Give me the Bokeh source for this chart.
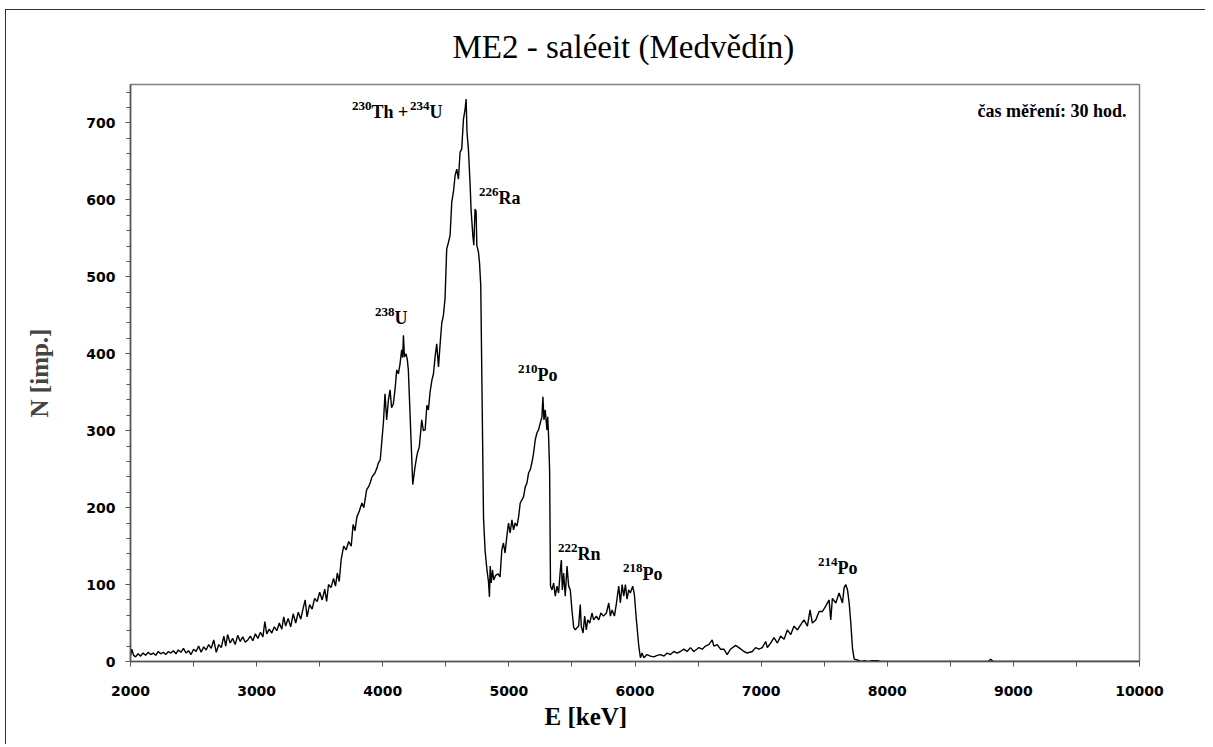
from bokeh.plotting import figure
from bokeh.models import FixedTicker, Range1d, Title, ColumnDataSource
from bokeh.core.properties import value
from bokeh.embed import file_html
from bokeh.resources import INLINE

# ---- data ----
energy_kev = [
    2000, 2010, 2025, 2040, 2060, 2080, 2100, 2120, 2140, 2160, 2180, 2200, 2220, 2240, 2260, 2280,
    2300, 2320, 2340, 2360, 2380, 2400, 2420, 2440, 2460, 2480, 2500, 2520, 2540, 2560, 2580, 2600,
    2620, 2640, 2660, 2680, 2700, 2720, 2740, 2755, 2770, 2790, 2810, 2830, 2850, 2870, 2890, 2910,
    2930, 2950, 2970, 2990, 3010, 3030, 3050, 3065, 3080, 3100, 3120, 3140, 3160, 3180, 3200, 3215,
    3230, 3250, 3270, 3290, 3310, 3330, 3350, 3370, 3385, 3400, 3420, 3440, 3460, 3480, 3500, 3520,
    3540, 3555, 3570, 3590, 3610, 3625, 3640, 3655, 3670, 3690, 3710, 3730, 3750, 3765, 3780, 3795,
    3815, 3835, 3850, 3872, 3890, 3900, 3915, 3938, 3955, 3965, 3980, 3992, 4005, 4018, 4031, 4045,
    4058, 4070, 4084, 4097, 4111, 4124, 4137, 4150, 4158, 4164, 4172, 4185, 4195, 4203, 4238, 4256,
    4268, 4275, 4290, 4309, 4322, 4336, 4350, 4362, 4375, 4389, 4402, 4415, 4428, 4442, 4455, 4468,
    4481, 4494, 4507, 4521, 4534, 4547, 4560, 4574, 4587, 4600, 4613, 4626, 4640, 4653, 4661, 4668,
    4679, 4693, 4700, 4714, 4722, 4732, 4740, 4746, 4759, 4767, 4777, 4799, 4812, 4825, 4838, 4846,
    4852, 4860, 4870, 4880, 4895, 4915, 4930, 4944, 4957, 4970, 4984, 4997, 5010, 5024, 5037, 5050,
    5064, 5077, 5090, 5103, 5116, 5130, 5143, 5156, 5169, 5182, 5196, 5209, 5222, 5235, 5249, 5262,
    5270, 5278, 5288, 5302, 5308, 5315, 5323, 5330, 5342, 5355, 5368, 5381, 5394, 5408, 5416, 5424,
    5434, 5447, 5461, 5474, 5487, 5500, 5514, 5527, 5540, 5553, 5566, 5574, 5588, 5601, 5614, 5625,
    5641, 5659, 5672, 5694, 5712, 5730, 5750, 5773, 5792, 5805, 5818, 5837, 5853, 5871, 5884, 5898,
    5911, 5924, 5937, 5950, 5963, 5982, 5995, 6011, 6030, 6043, 6056, 6070, 6095, 6122, 6150, 6176,
    6202, 6230, 6255, 6281, 6308, 6334, 6360, 6387, 6413, 6440, 6466, 6490, 6506, 6533, 6559, 6585,
    6612, 6625, 6652, 6678, 6705, 6731, 6757, 6797, 6824, 6864, 6890, 6930, 6956, 6983, 7009, 7036,
    7049, 7076, 7102, 7129, 7155, 7182, 7208, 7235, 7261, 7288, 7314, 7340, 7367, 7388, 7406, 7433,
    7460, 7486, 7512, 7539, 7552, 7565, 7592, 7618, 7645, 7658, 7671, 7685, 7698, 7711, 7725, 7738,
    7764, 7790, 7820, 7850, 7880, 7920, 7950, 8000, 8800, 8820, 8840, 10000,
]
counts = [
    7, 16, 8, 6, 10, 7, 11, 8, 12, 9, 11, 8, 13, 10, 12, 9,
    13, 11, 14, 10, 15, 12, 17, 11, 14, 9, 16, 13, 20, 12, 19, 15,
    22, 17, 28, 12, 22, 18, 33, 20, 35, 24, 30, 22, 34, 26, 32, 25,
    28, 33, 27, 36, 30, 38, 32, 52, 36, 42, 37, 45, 40, 50, 42, 58,
    46, 56, 45, 62, 50, 64, 55, 70, 80, 58, 74, 68, 82, 78, 90, 80,
    94, 78, 100, 96, 108, 98, 115, 104, 132, 150, 145, 156, 150, 178, 170, 188,
    196, 206, 200, 223, 228, 232, 240, 245, 252, 258, 262, 285, 310, 348, 314, 340,
    353, 330, 335, 353, 379, 374, 387, 405, 395, 424, 396, 400, 392, 379, 230, 253,
    265, 271, 279, 314, 300, 301, 333, 327, 350, 365, 374, 396, 413, 383, 413, 440,
    450, 472, 536, 545, 554, 597, 610, 632, 640, 627, 662, 666, 705, 718, 731, 688,
    666, 619, 588, 554, 541, 588, 585, 541, 532, 519, 489, 186, 143, 121, 104, 84,
    124, 102, 119, 106, 112, 114, 110, 145, 154, 141, 163, 180, 167, 184, 171, 180,
    176, 188, 206, 210, 214, 227, 232, 245, 249, 258, 271, 288, 297, 301, 310, 318,
    344, 314, 327, 301, 318, 292, 249, 98, 93, 102, 85, 98, 89, 119, 132, 93,
    115, 85, 124, 98, 93, 67, 44, 41, 44, 46, 74, 46, 37, 59, 41, 54,
    50, 63, 54, 59, 54, 63, 59, 63, 76, 59, 67, 59, 76, 98, 76, 100,
    85, 100, 81, 93, 89, 98, 87, 54, 20, 5, 11, 5, 9, 7, 6, 8,
    9, 7, 11, 9, 13, 11, 13, 16, 13, 18, 13, 16, 18, 16, 20, 22,
    28, 20, 22, 16, 16, 9, 16, 21, 18, 13, 11, 13, 18, 16, 18, 26,
    18, 24, 31, 24, 33, 29, 41, 35, 46, 41, 48, 54, 46, 67, 50, 54,
    65, 65, 72, 80, 54, 82, 76, 89, 76, 96, 100, 93, 76, 50, 16, 3,
    2, 0, 1, 0, 1, 1, 0, 0, 0, 3, 0, 0,
]

x_major_ticks = [2000, 3000, 4000, 5000, 6000, 7000, 8000, 9000, 10000]
x_minor_ticks = [2500, 3500, 4500, 5500, 6500, 7500, 8500, 9500]
y_major_ticks = [0, 100, 200, 300, 400, 500, 600, 700]
y_minor_ticks = list(range(0, 741, 20))

title_text = "ME2 - saléeit (Medvědín)"
x_label = "E [keV]"
y_label = "N [imp.]"
note_text = "čas měření: 30 hod."

# peak annotations: mass number (superscript) + symbol
peak_mass = ["230", "234", "226", "238", "210", "222", "218", "214"]
peak_symbol = ["Th + ", "U", "Ra", "U", "Po", "Rn", "Po", "Po"]
# anchor positions (data units) where superscript ends and symbol begins
peak_anchor_e = [3911, 4371, 4918, 4093, 5227, 5544, 6059, 7606]
peak_anchor_n = [714, 714, 602, 446, 372, 140, 114, 122]

p = figure(
    width=1200, height=735,
    x_range=Range1d(2000, 10000), y_range=Range1d(0, 750),
    output_backend="svg", toolbar_location=None,
    min_border_left=124, min_border_right=67, min_border_top=73, min_border_bottom=84,
    background_fill_color="white", border_fill_color="white",
)
p.styles = {"margin-left": "5px", "margin-top": "9px",
            "border-left": "1px solid #333333", "border-top": "1px solid #333333"}

p.xgrid.visible = False
p.ygrid.visible = False
p.outline_line_color = "#808080"
p.outline_line_width = 1.5

# title
p.title.text = title_text
p.title.align = "left"
p.title.offset = 322
p.title.vertical_align = "top"
p.title.text_font = "Liberation Serif"
p.title.text_font_size = "33px"
p.title.text_font_style = "normal"
p.title.text_color = "black"
p.title.standoff = 36

# axes
for ax in (p.xaxis[0], p.yaxis[0]):
    ax.axis_line_color = "#555555"
    ax.axis_line_width = 1.5
    ax.major_tick_line_color = "#555555"
    ax.minor_tick_line_color = "#555555"
    ax.major_tick_in = 0
    ax.minor_tick_in = 0
    ax.major_label_text_font = "DejaVu Sans"
    ax.major_label_text_font_style = "bold"
    ax.major_label_text_font_size = "14px"
    ax.major_label_text_color = "black"

p.xaxis.ticker = FixedTicker(ticks=x_major_ticks, minor_ticks=x_minor_ticks)
p.xaxis.major_tick_out = 5
p.xaxis.minor_tick_out = 5
p.xaxis.major_label_standoff = 19

p.yaxis.ticker = FixedTicker(ticks=y_major_ticks, minor_ticks=y_minor_ticks)
p.yaxis.major_tick_out = 5
p.yaxis.minor_tick_out = 4
p.yaxis.major_label_standoff = 10
p.yaxis.axis_label = y_label
p.yaxis.axis_label_text_font = "Liberation Serif"
p.yaxis.axis_label_text_font_style = "bold"
p.yaxis.axis_label_text_font_size = "25px"
p.yaxis.axis_label_standoff = 30

p.add_layout(Title(text=x_label, align="left", offset=414,
                   text_font="Liberation Serif", text_font_style="bold",
                   text_font_size="25px", text_color="black", standoff=5), "below")

# spectrum
p.line(energy_kev, counts, line_color="black", line_width=1.4)

# peak labels
src = ColumnDataSource(dict(e=peak_anchor_e, n=peak_anchor_n, mass=peak_mass, sym=peak_symbol))
p.text(x="e", y="n", text="mass", source=src, text_align="right", text_baseline="alphabetic",
       y_offset=-6, text_font=value("Liberation Serif"), text_font_style="bold",
       text_font_size="13px", text_color="black")
p.text(x="e", y="n", text="sym", source=src, text_align="left", text_baseline="alphabetic",
       text_font=value("Liberation Serif"), text_font_style="bold",
       text_font_size="18px", text_color="black")

# measurement time note
p.text(x=[9897], y=[715], text=[note_text], text_align="right", text_baseline="alphabetic",
       text_font=value("Liberation Serif"), text_font_style="bold",
       text_font_size="18px", text_color="black")

open("out.html", "w").write(file_html(p, INLINE))
